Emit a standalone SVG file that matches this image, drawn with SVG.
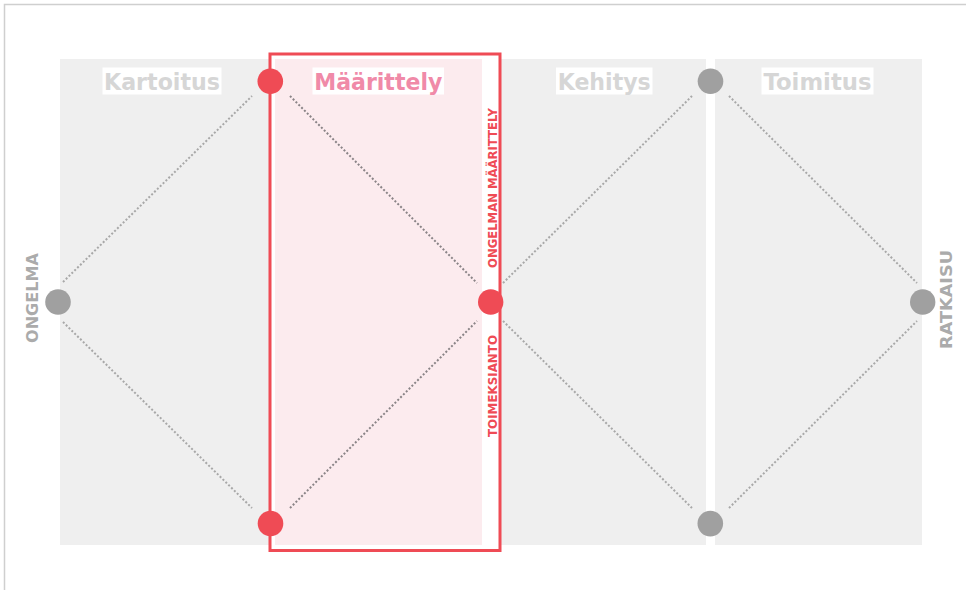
<svg xmlns="http://www.w3.org/2000/svg" width="966" height="590" viewBox="0 0 966 590">
  <style>
    .lbl { font-family: "DejaVu Sans", Verdana, sans-serif; font-weight: bold; font-size: 23px; text-anchor: middle; }
    .gray-lbl { fill: #d6d6d6; }
    .pink-lbl { fill: #f08aa8; }
    .side { font-family: "DejaVu Sans", Verdana, sans-serif; font-weight: bold; font-size: 16px; fill: #ababab; text-anchor: middle; }
    .red-side { font-family: "DejaVu Sans", Verdana, sans-serif; font-weight: bold; font-size: 12px; fill: #ef4b55; text-anchor: middle; }
    .bg { fill: #ffffff; }
    .dot-out { stroke: #a8a8a8; stroke-width: 2; stroke-dasharray: 2 2; fill: none; }
    .dot-in { stroke: #8a8487; stroke-width: 2; stroke-dasharray: 2 2; fill: none; }
    .node-gray { fill: #a0a0a0; }
    .node-red { fill: #ef4b55; }
  </style>

  <!-- outer frame -->
  <rect x="4.5" y="4.5" width="985" height="610" fill="#ffffff" stroke="#cfcfcf" stroke-width="1.5"/>

  <!-- background panels -->
  <g id="panels">
    <rect x="60" y="59" width="862" height="486" fill="#efefef"/>
    <rect x="706" y="59" width="9" height="486" fill="#ffffff"/>
  </g>

  <!-- highlighted phase -->
  <g id="highlight">
    <rect x="270" y="54" width="230" height="496.5" fill="#ffffff" stroke="#ef4b55" stroke-width="3"/>
    <rect x="275" y="59" width="207" height="486" fill="#fcebee"/>
  </g>

  <!-- phase labels -->
  <g id="label-kartoitus">
    <rect class="bg" x="102.5" y="67.5" width="119" height="27"/>
    <text class="lbl gray-lbl" x="162" y="89.5" textLength="116" lengthAdjust="spacingAndGlyphs">Kartoitus</text>
  </g>
  <g id="label-maarittely">
    <rect class="bg" x="312.5" y="67.5" width="131.5" height="27"/>
    <text class="lbl pink-lbl" x="378.3" y="89.5" textLength="128" lengthAdjust="spacingAndGlyphs">Määrittely</text>
  </g>
  <g id="label-kehitys">
    <rect class="bg" x="556" y="67.5" width="96.5" height="27"/>
    <text class="lbl gray-lbl" x="604.2" y="89.5" textLength="93" lengthAdjust="spacingAndGlyphs">Kehitys</text>
  </g>
  <g id="label-toimitus">
    <rect class="bg" x="761.5" y="67.5" width="112" height="27"/>
    <text class="lbl gray-lbl" x="817.5" y="89.5" textLength="108" lengthAdjust="spacingAndGlyphs">Toimitus</text>
  </g>

  <!-- connectors -->
  <g id="connectors">
    <line class="dot-out" x1="63" y1="282" x2="252" y2="96"/>
    <line class="dot-out" x1="63" y1="322" x2="252" y2="508"/>
    <line class="dot-in" x1="290" y1="96" x2="477" y2="283"/>
    <line class="dot-in" x1="290" y1="508" x2="477" y2="321"/>
    <line class="dot-out" x1="503" y1="283" x2="692" y2="96"/>
    <line class="dot-out" x1="503" y1="321" x2="692" y2="508"/>
    <line class="dot-out" x1="729" y1="96" x2="917" y2="283"/>
    <line class="dot-out" x1="729" y1="508" x2="917" y2="321"/>
  </g>

  <!-- nodes -->
  <g id="node-ongelma">
    <circle class="node-gray" cx="58" cy="302" r="12.8"/>
    <text class="side" transform="translate(37.5 298) rotate(-90)" textLength="90" lengthAdjust="spacingAndGlyphs">ONGELMA</text>
  </g>
  <g id="node-top-1">
    <circle class="node-red" cx="270.3" cy="81.2" r="12.8"/>
  </g>
  <g id="node-bottom-1">
    <circle class="node-red" cx="270.5" cy="523.5" r="12.8"/>
  </g>
  <g id="node-mid">
    <circle class="node-red" cx="490.7" cy="302" r="12.7"/>
    <text class="red-side" transform="translate(497.3 188) rotate(-90)" textLength="160" lengthAdjust="spacingAndGlyphs">ONGELMAN MÄÄRITTELY</text>
    <text class="red-side" transform="translate(497.3 386) rotate(-90)" textLength="102" lengthAdjust="spacingAndGlyphs">TOIMEKSIANTO</text>
  </g>
  <g id="node-top-2">
    <circle class="node-gray" cx="710.5" cy="81.2" r="12.8"/>
  </g>
  <g id="node-bottom-2">
    <circle class="node-gray" cx="710.3" cy="523.6" r="12.8"/>
  </g>
  <g id="node-ratkaisu">
    <circle class="node-gray" cx="922.7" cy="302" r="12.7"/>
    <text class="side" transform="translate(951.7 299.5) rotate(-90)" textLength="99" lengthAdjust="spacingAndGlyphs">RATKAISU</text>
  </g>
</svg>
